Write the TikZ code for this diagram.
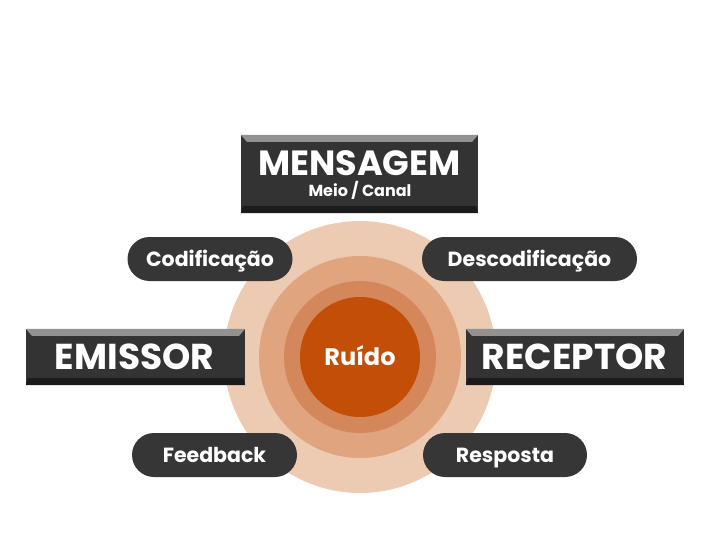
\documentclass[tikz,border=0pt]{standalone}
\usepackage{fontspec}
\setmainfont{Poppins}
\usetikzlibrary{shapes.misc}
\begin{document}
\begin{tikzpicture}[x=1pt,y=-1pt,
  dark/.style={fill=boxgray,draw=none,rectangle,inner sep=0pt},
  lbl/.style={text=white,inner sep=0pt,text depth=0pt},
  pill/.style={fill=pillgray,draw=none,rounded rectangle,inner sep=0pt,text=white,font=\bfseries\fontsize{20.5}{24}\selectfont,minimum height=44pt,text height=14.3pt,text depth=0pt},
]
\definecolor{boxgray}{HTML}{333333}
\definecolor{pillgray}{HTML}{363636}
\definecolor{bevtop}{HTML}{929292}
\definecolor{bevbot}{HTML}{1B1B1B}
\definecolor{c1}{HTML}{EDCBB3}
\definecolor{c2}{HTML}{E0A47E}
\definecolor{c3}{HTML}{D4875A}
\definecolor{c4}{HTML}{C24E08}
\useasboundingbox (0,0) rectangle (720,540);
\fill[white] (0,0) rectangle (720,540);
% concentric circles
\fill[c1] (360,357) circle (136);
\fill[c2] (360,357) circle (101);
\fill[c3] (360,357) circle (76);
\node[circle,fill=c4,minimum size=120pt,inner sep=0pt,text=white,font=\bfseries\fontsize{24}{28}\selectfont,text height=16.8pt,text depth=0pt] (ruido) at (360,357) {Ruído};
% boxes
\node[dark,minimum width=237pt,minimum height=78pt] (msg) at (359.5,174) {};
\node[dark,minimum width=219pt,minimum height=56pt] (emi) at (135.5,357) {};
\node[dark,minimum width=218pt,minimum height=56pt] (rec) at (575,357) {};
% bevels
\foreach \b in {msg,emi,rec}{
  \fill[bevtop] (\b.north west) -- (\b.north east) -- ([xshift=-6pt,yshift=-7pt]\b.north east) -- ([xshift=6pt,yshift=-7pt]\b.north west) -- cycle;
  \fill[bevbot] (\b.south west) -- (\b.south east) -- ([xshift=-2pt,yshift=7pt]\b.south east) -- ([xshift=2pt,yshift=7pt]\b.south west) -- cycle;
}
% box labels
\node[lbl,font=\bfseries\fontsize{35}{38}\selectfont,text height=24.4pt] (msgt) at (359.5,163.5) {MENSAGEM};
\node[lbl,font=\bfseries\fontsize{16}{18}\selectfont,text height=11.2pt] (msgs) at (360,191) {Meio / Canal};
\node[lbl,font=\bfseries\fontsize{36}{38}\selectfont,text height=25.1pt] (emit) at (134.5,357) {EMISSOR};
\node[lbl,font=\bfseries\fontsize{36}{38}\selectfont,text height=25.1pt] (rect) at (574.5,357) {RECEPTOR};
% pills
\node[pill,minimum width=165pt] (cod) at (210,259) {Codificação};
\node[pill,minimum width=215pt] (dec) at (529.5,259) {Descodificação};
\node[pill,minimum width=165pt] (fb) at (214.5,455) {Feedback};
\node[pill,minimum width=164pt] (resp) at (505,455) {Resposta};
\end{tikzpicture}
\end{document}
